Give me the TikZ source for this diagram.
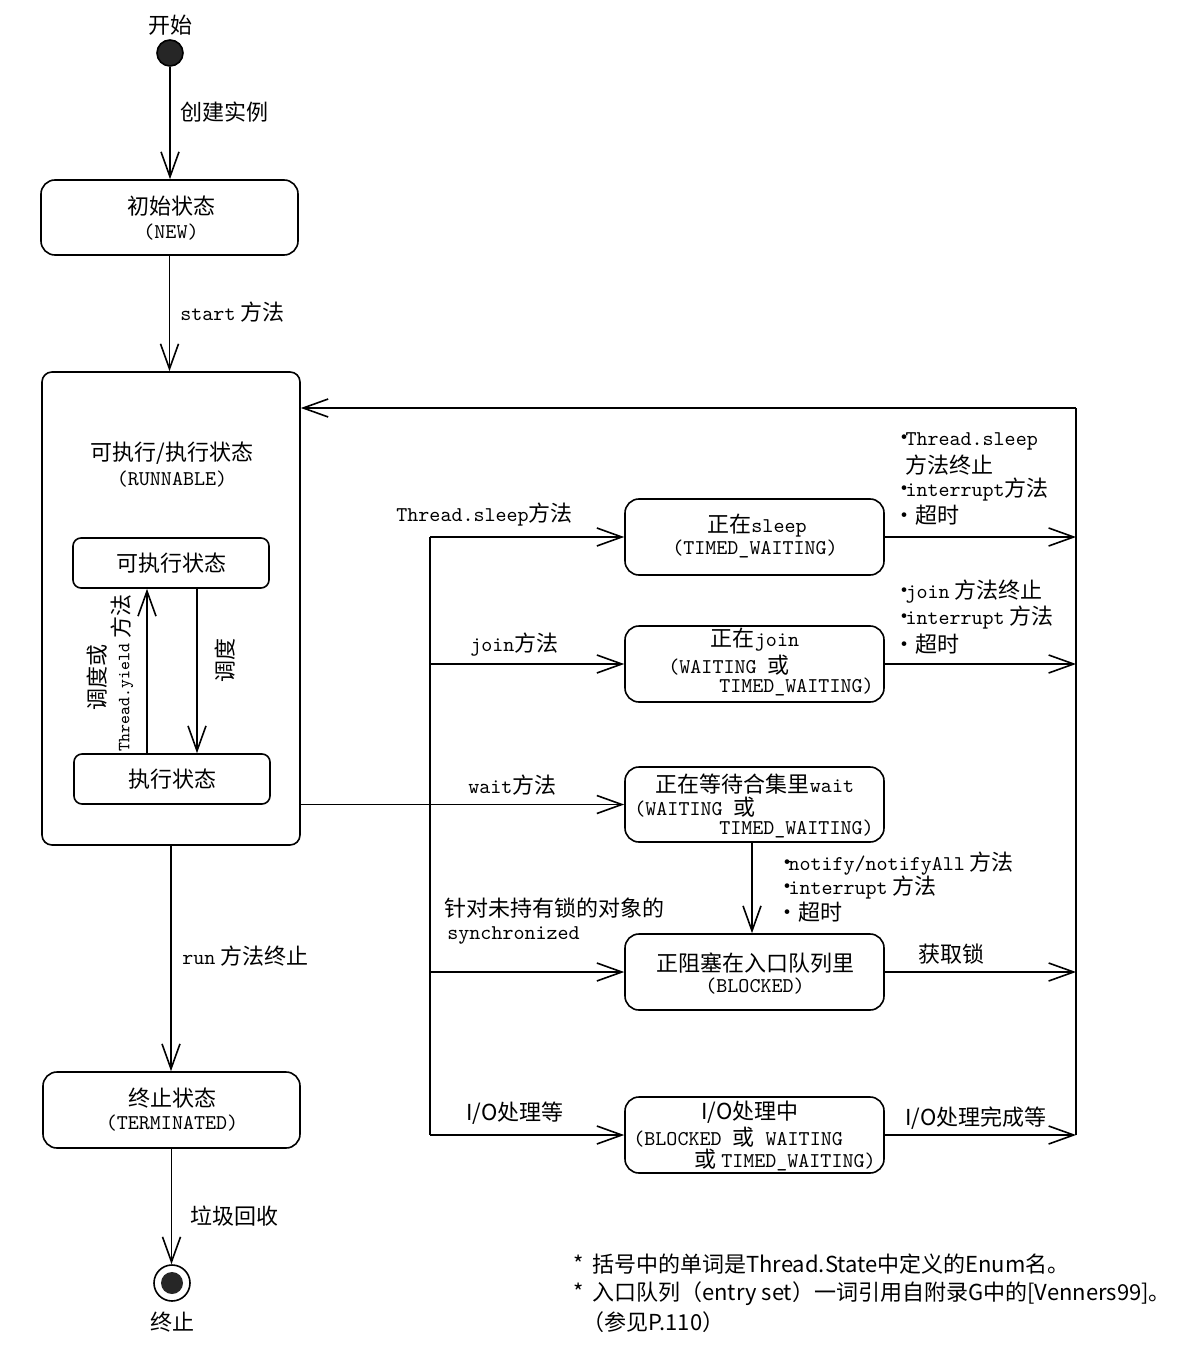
\documentclass[tikz,border=0pt]{standalone}
\usepackage{fontspec}
\setmainfont{Noto Sans CJK SC}
\usetikzlibrary{arrows.meta}
\newcommand\mytt[1]{{\fontsize{10.5}{12}\ttfamily #1}}
\newcommand\bul{•\hspace{-0.45em}}
\begin{document}
\begin{tikzpicture}[x=0.5pt,y=-0.5pt,
  box/.style={draw, line width=0.8pt, rounded corners=7pt, inner sep=0pt, font=\fontsize{11}{13}\selectfont},
  ln/.style={line width=0.8pt},
  arr/.style={line width=0.8pt, -{Straight Barb[length=12.5pt,width=9pt,line width=0.8pt]}},
  lab/.style={font=\fontsize{11}{13}\selectfont, inner sep=0pt},
  tlab/.style={font=\fontsize{10.5}{12}\ttfamily, inner sep=0pt},
  note/.style={font=\fontsize{11}{13}\selectfont, inner sep=0pt, anchor=west}]
\useasboundingbox (0,0) rectangle (1192,1352);
% start
\node[circle, fill=black!85, draw, line width=0.8pt, minimum size=13pt, inner sep=0pt] (start) at (170,53) {};
\node[lab] (startT) at (170,25) {开始};
\node[box, minimum width=128.5pt, minimum height=37.5pt] (new) at (169.5,217.5) {};
\node[lab] (newA) at (171,206) {初始状态};
\node[tlab] (newB) at (171,232) {(NEW)};
\draw[arr] (start) -- (start |- new.north);
\node[lab, anchor=west] (l1) at (180,112) {创建实例};
% runnable
\node[box, rounded corners=5pt, minimum width=129pt, minimum height=236.5pt] (run) at (171,608.5) {};
\node[lab] (runA) at (172,453) {可执行/执行状态};
\node[tlab] (runB) at (172,479) {(RUNNABLE)};
\draw[arr] (new.south) -- (new.south |- run.north);
\node[lab, anchor=west] (l2) at (180,312) {\mytt{start} 方法};
\node[box, rounded corners=4pt, minimum width=98pt, minimum height=25pt] (canrun) at (171,563) {可执行状态};
\node[box, rounded corners=4pt, minimum width=98pt, minimum height=25pt] (running) at (172,779) {执行状态};
\draw[arr] ([xshift=-12.5pt]running.north) -- ([xshift=-12.5pt]running.north |- canrun.south);
\draw[arr] ([xshift=13pt]canrun.south) -- ([xshift=13pt]canrun.south |- running.north);
\node[lab, rotate=90] (yl1) at (97,677) {调度或};
\node[lab, rotate=90] (yl2) at (122,673) {{\fontsize{8.5}{10}\ttfamily Thread.yield} 方法};
\node[lab, rotate=90] (sl) at (225,660) {调度};
% terminated
\node[box, minimum width=128.5pt, minimum height=38pt] (term) at (171.5,1110) {};
\node[lab] (termA) at (172,1098) {终止状态};
\node[tlab] (termB) at (172,1123) {(TERMINATED)};
\draw[arr] (run.south) -- (run.south |- term.north);
\node[lab, anchor=west] (l3) at (182,956) {\mytt{run} 方法终止};
\node[circle, draw, line width=0.8pt, minimum size=18pt, inner sep=0pt] (end) at (172,1283) {};
\node[circle, fill=black!85, minimum size=11pt, inner sep=0pt] (endin) at (end.center) {};
\draw[arr] (term.south) -- (term.south |- end.north);
\node[lab, anchor=west] (l4) at (190,1216) {垃圾回收};
\node[lab] (endT) at (172,1322) {终止};
% right boxes
\node[box, minimum width=129.5pt, minimum height=38pt] (sleep) at (754.5,537) {};
\node[lab] (sleepA) at (757,526) {正在\mytt{sleep}};
\node[tlab] (sleepB) at (755,549) {(TIMED\_WAITING)};
\node[box, minimum width=129.5pt, minimum height=38pt] (join) at (754.5,664) {};
\node[lab] (joinA) at (755,640) {正在\mytt{join}};
\node[lab, anchor=west] (joinB) at (668,665) {\mytt{(WAITING }或};
\node[lab, anchor=east] (joinC) at (874,687) {\mytt{TIMED\_WAITING)}};
\node[box, minimum width=129.5pt, minimum height=37.5pt] (wait) at (754.5,804.5) {};
\node[lab] (waitA) at (755,784) {正在等待合集里\mytt{wait}};
\node[lab, anchor=west] (waitB) at (634,807) {\mytt{(WAITING }或};
\node[lab, anchor=east] (waitC) at (874,829) {\mytt{TIMED\_WAITING)}};
\node[box, minimum width=129.5pt, minimum height=38pt] (blocked) at (754.5,972) {};
\node[lab] (blA) at (755,963) {正阻塞在入口队列里};
\node[tlab] (blB) at (755,986) {(BLOCKED)};
\node[box, minimum width=129.5pt, minimum height=38pt] (io) at (754.5,1135) {};
\node[lab] (ioA) at (750,1112) {I/O处理中};
\node[lab, anchor=west] (ioB) at (633,1137) {\mytt{(BLOCKED }或\mytt{ WAITING}};
\node[lab, anchor=east] (ioC) at (876,1160) {或 \mytt{TIMED\_WAITING)}};
% left bus
\coordinate (bT) at (430,537);
\coordinate (bB) at (430,1135);
\draw[ln] (bT) -- (bB);
\draw[arr] (bT) -- (sleep.west);
\draw[arr] (join.west -| bT) -- (join.west);
\draw[arr] (run.east |- wait.west) -- (wait.west);
\draw[arr] (blocked.west -| bT) -- (blocked.west);
\draw[arr] (bB) -- (io.west);
\node[lab, anchor=west] (t1) at (396,515) {\mytt{Thread.sleep}方法};
\node[lab, anchor=west] (t2) at (470,645) {\mytt{join}方法};
\node[lab, anchor=west] (t3) at (468,785) {\mytt{wait}方法};
\node[lab, anchor=west] (t4) at (444,908) {针对未持有锁的对象的};
\node[tlab, anchor=west] (t5) at (447,935) {synchronized};
\node[lab, anchor=west] (t6) at (466,1113) {I/O处理等};
% right bus
\coordinate (rT) at (1076,408);
\coordinate (rB) at (1076,1135);
\draw[ln] (rB) -- (rT);
\draw[arr] (rT) -- (rT -| run.east);
\draw[arr] (sleep.east) -- (sleep.east -| rT);
\draw[arr] (join.east) -- (join.east -| rT);
\draw[arr] (blocked.east) -- (blocked.east -| rT);
\draw[arr] (io.east) -- (rB);
\draw[arr] ([xshift=-1.25pt]wait.south) -- ([xshift=-1.25pt]wait.south |- blocked.north);
% right labels
\node[lab, anchor=west] (s1) at (893,441) {\bul\mytt{Thread.sleep}};
\node[lab, anchor=west] (s2) at (905,465) {方法终止};
\node[lab, anchor=west] (s3) at (893,490) {\bul\mytt{interrupt}方法};
\node[lab, anchor=west] (s4) at (893,515) {\bul\hspace{0.45em}超时};
\node[lab, anchor=west] (j1) at (893,592) {\bul\mytt{join} 方法终止};
\node[lab, anchor=west] (j2) at (893,618) {\bul\mytt{interrupt} 方法};
\node[lab, anchor=west] (j3) at (893,644) {\bul\hspace{0.45em}超时};
\node[lab, anchor=west] (n1) at (776,864) {\bul\mytt{notify/notifyAll} 方法};
\node[lab, anchor=west] (n2) at (776,888) {\bul\mytt{interrupt} 方法};
\node[lab, anchor=west] (n3) at (776,912) {\bul\hspace{0.45em}超时};
\node[lab, anchor=west] (g1) at (918,954) {获取锁};
\node[lab, anchor=west] (g2) at (905,1118) {I/O处理完成等};
% notes
\node[note] (f1) at (573,1264) {* \,括号中的单词是Thread.State中定义的Enum名。};
\node[note] (f2) at (573,1294) {* \,入口队列（entry set）一词引用自附录G中的[Venners99]。};
\node[note] (f3) at (582,1322) {（参见P.110）};
\end{tikzpicture}
\end{document}
